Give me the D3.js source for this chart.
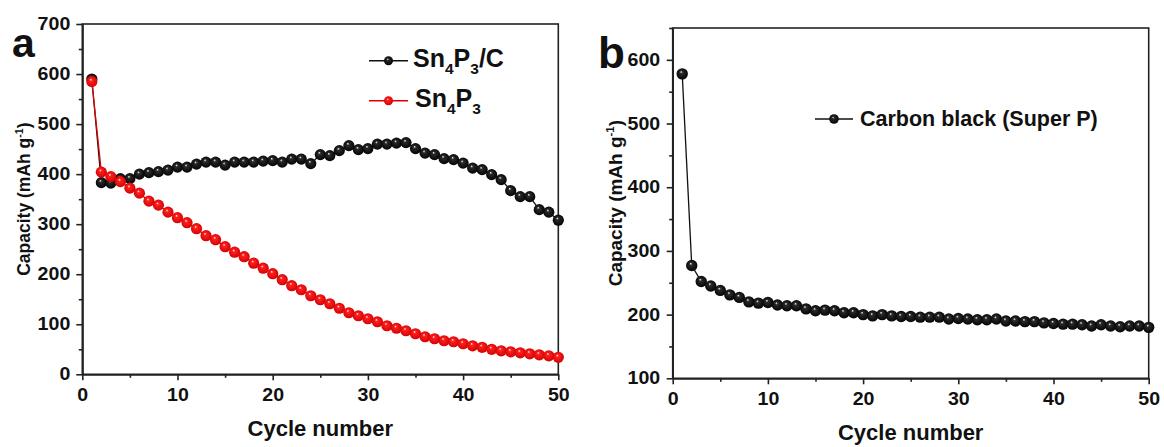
<!DOCTYPE html>
<meta charset="utf-8">
<style>
  body { margin: 0; background: #fff; }
  svg text { font-family: "Liberation Sans", Arial, sans-serif; font-weight: bold; fill: #111; }
</style>
<script src="https://d3js.org/d3.v7.min.js"></script>
<div id="chart"></div>
<script>
// cycle numbers 1..50
var cycles = [1,2,3,4,5,6,7,8,9,10,11,12,13,14,15,16,17,18,19,20,21,22,23,24,25,
              26,27,28,29,30,31,32,33,34,35,36,37,38,39,40,41,42,43,44,45,46,47,48,49,50];

// panel a
var sn4p3c = [590,383,382,391,391,400,403,405,408,414,414,420,424,424,418,424,424,424,426,427,
              424,430,430,421,439,437,447,457,449,451,460,460,462,463,451,442,439,431,429,422,
              412,409,399,389,367,355,355,329,324,308];
var sn4p3 = [585,404,395,385,372,362,346,338,324,313,303,291,277,269,255,244,235,222,212,201,
             189,177,169,157,149,141,132,123,117,111,105,97,92,87,81,75,71,67,65,61,
             57,54,50,47,45,43,41,39,37,34];

// panel b
var superP = [578,277,252,245,238,231,227,220,218,219,215,214,214,209,206,207,206,203,203,200,
              198,200,198,197,197,196,196,196,193,194,193,192,192,193,190,190,189,189,187,186,
              185,185,184,182,184,182,181,182,182,180];

var xTicks = [0,10,20,30,40,50];
var xMinor = [5,15,25,35,45];
var yTicksA = [0,100,200,300,400,500,600,700];
var yMinorA = [50,150,250,350,450,550,650];
var yTicksB = [100,200,300,400,500,600];
var yMinorB = [150,250,350,450,550,650];

var W = 1164, H = 447;
var STRETCH = 1.12; // tick labels in the figure are a bit wide
var svg = d3.select("#chart").append("svg").attr("width", W).attr("height", H);

var defs = svg.append("defs");
function ballGrad(id, light, mid, dark) {
  var g = defs.append("radialGradient").attr("id", id)
    .attr("cx", "0.5").attr("cy", "0.5").attr("r", "0.55")
    .attr("fx", "0.4").attr("fy", "0.32");
  g.append("stop").attr("offset", "0").attr("stop-color", light);
  g.append("stop").attr("offset", "0.22").attr("stop-color", mid);
  g.append("stop").attr("offset", "1").attr("stop-color", dark);
}
ballGrad("gBlack", "#ffffff", "#2a2a2a", "#000");
ballGrad("gRed", "#ffffff", "#ff2020", "#d00000");

function panel(opt) {
  var x = d3.scaleLinear().domain([0, 50]).range([opt.x0, opt.x1]);
  var y = d3.scaleLinear().domain(opt.yDomain).range([opt.y1, opt.y0]);
  var g = svg.append("g");

  // frame
  g.append("rect").attr("x", opt.x0).attr("y", opt.y0)
    .attr("width", opt.x1 - opt.x0).attr("height", opt.y1 - opt.y0)
    .attr("fill", "none").attr("stroke", "#222").attr("stroke-width", 1.6);

  // x axis
  g.append("g").attr("class", "xa").attr("transform", "translate(0," + opt.y1 + ")")
    .call(d3.axisBottom(x).tickValues(xTicks).tickSize(6).tickSizeOuter(0).tickPadding(8.5));
  g.append("g").attr("transform", "translate(0," + opt.y1 + ")")
    .call(d3.axisBottom(x).tickValues(xMinor).tickSize(3.5).tickSizeOuter(0).tickFormat(""));
  // y axis
  g.append("g").attr("class", "ya").attr("transform", "translate(" + opt.x0 + ",0)")
    .call(d3.axisLeft(y).tickValues(opt.yTicks).tickSize(6).tickSizeOuter(0).tickPadding(opt.yPad));
  g.append("g").attr("transform", "translate(" + opt.x0 + ",0)")
    .call(d3.axisLeft(y).tickValues(opt.yMinor).tickSize(3.5).tickSizeOuter(0).tickFormat(""));
  g.selectAll(".domain").attr("stroke", "#222").attr("stroke-width", 1.6);
  g.selectAll(".tick line").attr("stroke", "#222").attr("stroke-width", 1.6);
  g.selectAll(".tick text").attr("font-size", opt.tickFont).attr("fill", "#111")
    .style("font-family", "'Liberation Sans', Arial, sans-serif").style("font-weight", "bold")
    .attr("transform", "scale(" + STRETCH + ",1)");
  g.selectAll(".ya .tick text").attr("x", -(6 + opt.yPad) / STRETCH);

  // titles
  g.append("text").attr("x", (opt.x0 + opt.x1) / 2).attr("y", opt.xTitleY)
    .attr("text-anchor", "middle").attr("font-size", 22).text("Cycle number");
  var yt = g.append("text")
    .attr("transform", "translate(" + opt.yTitleX + "," + ((opt.y0 + opt.y1) / 2) + ") rotate(-90)")
    .attr("text-anchor", "middle").attr("font-size", opt.yTitleFont);
  yt.append("tspan").text("Capacity (mAh g");
  yt.append("tspan").attr("font-size", opt.yTitleFont * 0.6).attr("dy", -opt.yTitleFont * 0.4).text("-1");
  yt.append("tspan").attr("dy", opt.yTitleFont * 0.4).text(")");

  g.append("text").attr("x", opt.letterX).attr("y", opt.letterY)
    .attr("font-size", opt.letterFont).text(opt.letter);

  // series
  opt.series.forEach(function (s) {
    var line = d3.line().x(function (d, i) { return x(cycles[i]); }).y(function (d) { return y(d); });
    g.append("path").datum(s.values).attr("d", line)
      .attr("fill", "none").attr("stroke", s.stroke).attr("stroke-width", 1.3);
    g.selectAll(null).data(s.values).enter().append("circle")
      .attr("cx", function (d, i) { return x(cycles[i]); })
      .attr("cy", function (d) { return y(d); })
      .attr("r", opt.r).attr("fill", "url(#" + s.grad + ")");
  });
  return { x: x, y: y, g: g };
}

panel({
  x0: 82.3, x1: 558.3, y0: 24, y1: 374.3, yDomain: [0, 700],
  yTicks: yTicksA, yMinor: yMinorA, tickFont: 17.5, yPad: 6,
  xTitleY: 436, yTitleX: 30, yTitleFont: 17.5,
  letter: "a", letterX: 12, letterY: 57, letterFont: 41, r: 5.6,
  series: [
    { values: sn4p3c, stroke: "#111", grad: "gBlack" },
    { values: sn4p3, stroke: "#e00000", grad: "gRed" }
  ]
});

panel({
  x0: 672.7, x1: 1148.7, y0: 28, y1: 378.3, yDomain: [100, 650],
  yTicks: yTicksB, yMinor: yMinorB, tickFont: 17.5, yPad: 6.5,
  xTitleY: 440, yTitleX: 622, yTitleFont: 19,
  letter: "b", letterX: 598, letterY: 68, letterFont: 44, r: 5.7,
  series: [
    { values: superP, stroke: "#111", grad: "gBlack" }
  ]
});

// legends
function legendItem(x1, x2, cy, stroke, grad, r) {
  svg.append("line").attr("x1", x1).attr("x2", x2).attr("y1", cy).attr("y2", cy)
    .attr("stroke", stroke).attr("stroke-width", 1.5);
  svg.append("circle").attr("cx", (x1 + x2) / 2).attr("cy", cy).attr("r", r)
    .attr("fill", "url(#" + grad + ")");
}
function chem(x, y, size, parts) {
  var t = svg.append("text").attr("x", x).attr("y", y).attr("font-size", size);
  parts.forEach(function (p) {
    if (p.sub) {
      t.append("tspan").attr("font-size", size * 0.62).attr("dy", size * 0.3).text(p.t);
    } else {
      t.append("tspan").attr("dy", p.after ? -size * 0.3 : 0).text(p.t);
    }
  });
}
legendItem(369, 408, 60.7, "#111", "gBlack", 4.5);
chem(413, 66.7, 25, [{ t: "Sn" }, { t: "4", sub: true }, { t: "P", after: true }, { t: "3", sub: true }, { t: "/C", after: true }]);
legendItem(369, 408, 100.7, "#e00000", "gRed", 4.5);
chem(415, 106.7, 25, [{ t: "Sn" }, { t: "4", sub: true }, { t: "P", after: true }, { t: "3", sub: true }]);

legendItem(815, 853, 119, "#111", "gBlack", 4.8);
svg.append("text").attr("x", 860).attr("y", 125.5).attr("font-size", 21.5).text("Carbon black (Super P)");
</script>
